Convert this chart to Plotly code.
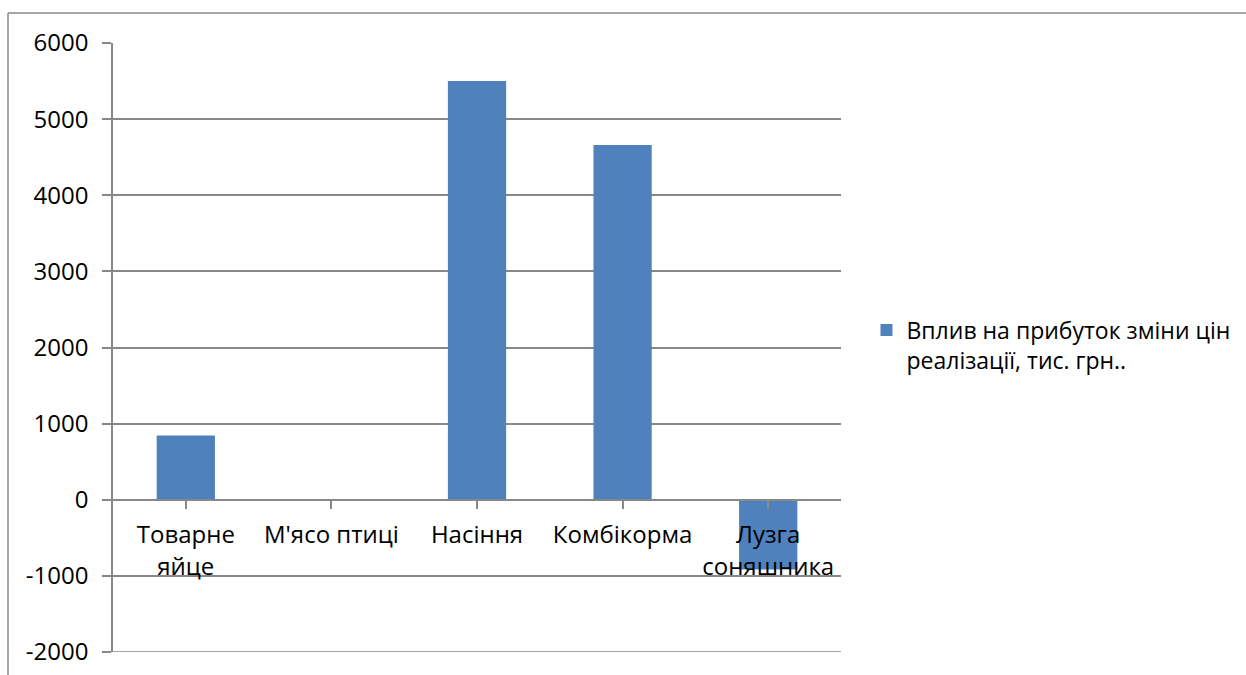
import plotly.graph_objects as go

categories = ["Товарне<br>яйце", "М'ясо птиці", "Насіння", "Комбікорма", "Лузга<br>соняшника"]
values = [845, 0, 5500, 4660, -915]
series_name = "Вплив на прибуток зміни цін<br>реалізації, тис. грн.."
y_ticks = [-2000, -1000, 0, 1000, 2000, 3000, 4000, 5000, 6000]
y_tick_text = ["-2000", "-1000", "0", "1000", "2000", "3000", "4000", "5000", "6000"]

FONT = "Open Sans"
GRID = "#888888"
FS = 24

fig = go.Figure()
fig.add_trace(go.Bar(
    x=list(range(len(categories))),
    y=values,
    name=series_name,
    marker=dict(color="#4F81BD", line=dict(width=0)),
    width=0.4,
    showlegend=True,
))

fig.update_layout(
    width=1246, height=675,
    margin=dict(l=113, r=405, t=43, b=23, autoexpand=False),
    paper_bgcolor="white", plot_bgcolor="white",
    font=dict(family=FONT, size=FS, color="black"),
    showlegend=True,
    legend=dict(
        x=1.035, xanchor="left", y=0.564, yanchor="top",
        valign="top", font=dict(family=FONT, size=23, color="black"),
        bgcolor="rgba(0,0,0,0)", itemclick=False,
    ),
    xaxis=dict(
        range=[-0.5, 4.5],
        tickmode="array", tickvals=list(range(len(categories))), ticktext=categories,
        tickson="boundaries", ticks="outside", ticklen=8, tickcolor=GRID, tickwidth=1.5,
        showline=True, linecolor=GRID, linewidth=1.5,
        showgrid=False, zeroline=False,
        anchor="free", position=0.25, automargin=False,
        ticklabelstandoff=6,
        tickfont=dict(family=FONT, size=FS),
    ),
    yaxis=dict(
        range=[-2000, 6000],
        tickmode="array", tickvals=y_ticks, ticktext=y_tick_text,
        ticks="outside", ticklen=9, tickcolor=GRID, tickwidth=1.5,
        showline=True, linecolor=GRID, linewidth=1.5,
        showgrid=True, gridcolor=GRID, gridwidth=1.5,
        zeroline=False, automargin=False,
        ticklabelstandoff=9,
        tickfont=dict(family=FONT, size=FS),
    ),
    shapes=[
        dict(type="line", xref="paper", yref="y",
             x0=0, x1=1, y0=y_ticks[0], y1=y_ticks[0],
             line=dict(color=GRID, width=1.5)),
        dict(type="line", xref="paper", yref="paper",
             x0=(8 - 113) / 728, x1=(1250 - 113) / 728,
             y0=1 + 30 / 609, y1=1 + 30 / 609,
             line=dict(color=GRID, width=1.5)),
        dict(type="line", xref="paper", yref="paper",
             x0=(8 - 113) / 728, x1=(8 - 113) / 728,
             y0=1 + 30 / 609, y1=-30 / 609,
             line=dict(color=GRID, width=1.5)),
    ],
)

fig.write_html("out.html")
